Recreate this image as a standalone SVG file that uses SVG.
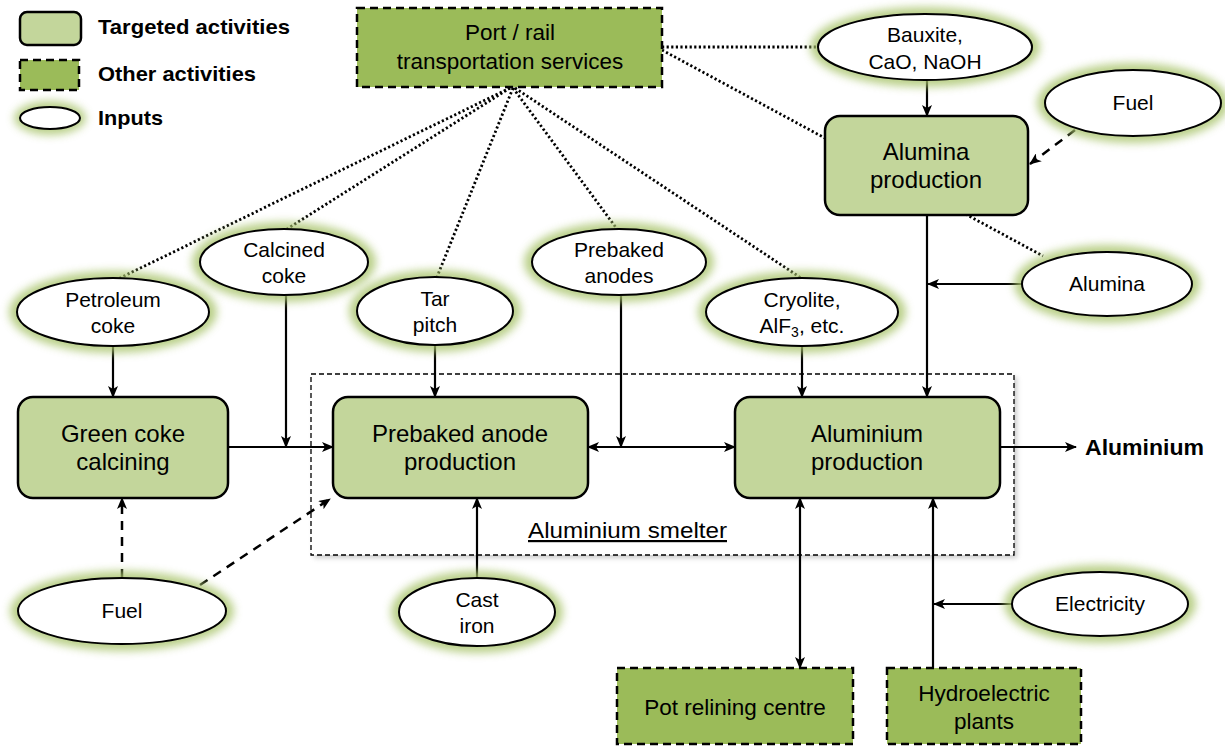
<svg xmlns="http://www.w3.org/2000/svg" width="1225" height="746" viewBox="0 0 1225 746">
  <style>
    text { font-family: "Liberation Sans", Arial, sans-serif; fill: #000; }
    .box-t { fill: #c3d69b; stroke: #000; stroke-width: 2.5; }
    .box-o { fill: #9bbb59; stroke: #000; stroke-width: 2.5; stroke-dasharray: 8 5; }
    .inp { fill: #fff; stroke: #000; stroke-width: 2; }
    .glow { fill: #a9c46c; filter: url(#blur); opacity: 0.8; }
    .lbl { font-size: 24px; text-anchor: middle; }
    .olbl { font-size: 22.5px; text-anchor: middle; }
    .ilbl { font-size: 21px; text-anchor: middle; }
    .leg { font-size: 21px; font-weight: bold; }
    .solid { stroke: #000; stroke-width: 2.2; fill: none; }
    .dash { stroke: #000; stroke-width: 2.5; fill: none; stroke-dasharray: 9 7; }
    .dot { stroke: #000; stroke-width: 2.8; fill: none; stroke-dasharray: 2.2 2.4; }
  </style>
  <defs>
    <filter id="blur" x="-20%" y="-40%" width="140%" height="180%">
      <feGaussianBlur stdDeviation="4"/>
    </filter>
    <filter id="shadow" x="-5%" y="-5%" width="110%" height="115%">
      <feGaussianBlur stdDeviation="2.5"/>
    </filter>
    <marker id="arr" viewBox="0 0 12 10" refX="11" refY="5" markerWidth="12" markerHeight="10" markerUnits="userSpaceOnUse" orient="auto-start-reverse">
      <path d="M0,0 L12,5 L0,10 L3,5 z" fill="#000"/>
    </marker>
  </defs>

  <!-- legend -->
  <g id="legend">
    <rect class="box-t" x="20" y="12" width="61" height="33" rx="7"/>
    <text class="leg" x="98" y="34" textLength="192" lengthAdjust="spacingAndGlyphs">Targeted activities</text>
    <rect class="box-o" x="20" y="60" width="59" height="30"/>
    <text class="leg" x="98" y="81" textLength="158" lengthAdjust="spacingAndGlyphs">Other activities</text>
    <ellipse class="glow" cx="50" cy="118" rx="36" ry="17"/>
    <ellipse class="inp" cx="50" cy="118" rx="30" ry="11"/>
    <text class="leg" x="98" y="125" textLength="65" lengthAdjust="spacingAndGlyphs">Inputs</text>
  </g>

  <!-- smelter boundary -->
  <g id="smelter">
    <rect x="314" y="377" width="703" height="181" fill="#999" opacity="0.5" filter="url(#shadow)"/>
    <rect x="311" y="374" width="703" height="181" fill="#fff" stroke="#000" stroke-width="1.3" stroke-dasharray="5 3"/>
    <text x="528" y="538" font-size="22" text-decoration="underline" textLength="199" lengthAdjust="spacingAndGlyphs">Aluminium smelter</text>
  </g>

  <!-- connectors -->
  <g id="connectors">
    <line class="dot" x1="510" y1="88" x2="118" y2="279"/>
    <line class="dot" x1="510" y1="88" x2="287" y2="229"/>
    <line class="dot" x1="513" y1="88" x2="437" y2="277"/>
    <line class="dot" x1="513" y1="88" x2="617" y2="229"/>
    <line class="dot" x1="515" y1="88" x2="801" y2="278"/>
    <line class="dot" x1="662" y1="47" x2="818" y2="47"/>
    <line class="dot" x1="662" y1="50" x2="1043" y2="256"/>

    <line class="solid" x1="113" y1="346" x2="113" y2="397" marker-end="url(#arr)"/>
    <line class="solid" x1="286" y1="296" x2="286" y2="447" marker-end="url(#arr)"/>
    <line class="solid" x1="228" y1="447" x2="333" y2="447" marker-end="url(#arr)"/>
    <line class="solid" x1="435" y1="345" x2="435" y2="397" marker-end="url(#arr)"/>
    <line class="solid" x1="621" y1="296" x2="621" y2="447" marker-end="url(#arr)"/>
    <line class="solid" x1="588" y1="447" x2="735" y2="447" marker-start="url(#arr)" marker-end="url(#arr)"/>
    <line class="solid" x1="802" y1="346" x2="802" y2="397" marker-end="url(#arr)"/>
    <line class="solid" x1="927" y1="80" x2="927" y2="116" marker-end="url(#arr)"/>
    <line class="solid" x1="927" y1="215" x2="927" y2="397" marker-end="url(#arr)"/>
    <line class="solid" x1="1022" y1="284" x2="928" y2="284" marker-end="url(#arr)"/>
    <line class="solid" x1="1000" y1="447" x2="1076" y2="447" marker-end="url(#arr)"/>
    <line class="solid" x1="477" y1="578" x2="477" y2="498" marker-end="url(#arr)"/>
    <line class="solid" x1="800" y1="498" x2="800" y2="668" marker-start="url(#arr)" marker-end="url(#arr)"/>
    <line class="solid" x1="933" y1="668" x2="933" y2="498" marker-end="url(#arr)"/>
    <line class="solid" x1="1012" y1="604" x2="934" y2="604" marker-end="url(#arr)"/>

    <line class="dash" x1="122" y1="578" x2="122" y2="498" marker-end="url(#arr)"/>
    <line class="dash" x1="200" y1="585" x2="330" y2="499" marker-end="url(#arr)"/>
    <line class="dash" x1="1075" y1="130" x2="1030" y2="164" marker-end="url(#arr)"/>
  </g>

  <!-- activities -->
  <g id="port-rail">
    <rect class="box-o" x="357" y="8" width="305" height="79"/>
    <text class="olbl" x="510" y="40">Port / rail</text>
    <text class="olbl" x="510" y="69">transportation services</text>
  </g>
  <g id="alumina-production">
    <rect class="box-t" x="825" y="116" width="203" height="99" rx="15"/>
    <text class="lbl" x="926" y="160">Alumina</text>
    <text class="lbl" x="926" y="188">production</text>
  </g>
  <g id="green-coke-calcining">
    <rect class="box-t" x="18" y="397" width="210" height="101" rx="15"/>
    <text class="lbl" x="123" y="442">Green coke</text>
    <text class="lbl" x="123" y="470">calcining</text>
  </g>
  <g id="anode-production">
    <rect class="box-t" x="333" y="397" width="255" height="101" rx="15"/>
    <text class="lbl" x="460" y="442">Prebaked anode</text>
    <text class="lbl" x="460" y="470">production</text>
  </g>
  <g id="aluminium-production">
    <rect class="box-t" x="735" y="397" width="265" height="101" rx="15"/>
    <text class="lbl" x="867" y="442">Aluminium</text>
    <text class="lbl" x="867" y="470">production</text>
  </g>
  <g id="pot-relining">
    <rect class="box-o" x="617" y="668" width="236" height="76"/>
    <text class="olbl" x="735" y="715">Pot relining centre</text>
  </g>
  <g id="hydroelectric">
    <rect class="box-o" x="887" y="668" width="194" height="76"/>
    <text class="olbl" x="984" y="701">Hydroelectric</text>
    <text class="olbl" x="984" y="729">plants</text>
  </g>

  <!-- inputs -->
  <g id="in-bauxite">
    <ellipse class="glow" cx="925" cy="47" rx="115" ry="40"/>
    <ellipse class="inp" cx="925" cy="47" rx="107" ry="33"/>
    <text class="ilbl" x="925" y="42">Bauxite,</text>
    <text class="ilbl" x="925" y="69">CaO, NaOH</text>
  </g>
  <g id="in-fuel-alumina">
    <ellipse class="glow" cx="1133" cy="103" rx="96" ry="40"/>
    <ellipse class="inp" cx="1133" cy="103" rx="88" ry="33"/>
    <text class="ilbl" x="1133" y="110">Fuel</text>
  </g>
  <g id="in-alumina">
    <ellipse class="glow" cx="1107" cy="284" rx="93" ry="39"/>
    <ellipse class="inp" cx="1107" cy="284" rx="85" ry="32"/>
    <text class="ilbl" x="1107" y="291">Alumina</text>
  </g>
  <g id="in-petroleum-coke">
    <ellipse class="glow" cx="113" cy="312" rx="104" ry="41"/>
    <ellipse class="inp" cx="113" cy="312" rx="96" ry="34"/>
    <text class="ilbl" x="113" y="307">Petroleum</text>
    <text class="ilbl" x="113" y="333">coke</text>
  </g>
  <g id="in-calcined-coke">
    <ellipse class="glow" cx="284" cy="262" rx="92" ry="40"/>
    <ellipse class="inp" cx="284" cy="262" rx="84" ry="33"/>
    <text class="ilbl" x="284" y="257">Calcined</text>
    <text class="ilbl" x="284" y="283">coke</text>
  </g>
  <g id="in-tar-pitch">
    <ellipse class="glow" cx="435" cy="311" rx="86" ry="41"/>
    <ellipse class="inp" cx="435" cy="311" rx="78" ry="34"/>
    <text class="ilbl" x="435" y="306">Tar</text>
    <text class="ilbl" x="435" y="332">pitch</text>
  </g>
  <g id="in-prebaked-anodes">
    <ellipse class="glow" cx="619" cy="262" rx="95" ry="40"/>
    <ellipse class="inp" cx="619" cy="262" rx="87" ry="33"/>
    <text class="ilbl" x="619" y="257">Prebaked</text>
    <text class="ilbl" x="619" y="283">anodes</text>
  </g>
  <g id="in-cryolite">
    <ellipse class="glow" cx="802" cy="312" rx="104" ry="41"/>
    <ellipse class="inp" cx="802" cy="312" rx="96" ry="34"/>
    <text class="ilbl" x="802" y="307">Cryolite,</text>
    <text class="ilbl" x="802" y="333">AlF<tspan font-size="14" dy="4">3</tspan><tspan dy="-4">,  etc.</tspan></text>
  </g>
  <g id="in-cast-iron">
    <ellipse class="glow" cx="477" cy="612" rx="86" ry="41"/>
    <ellipse class="inp" cx="477" cy="612" rx="78" ry="34"/>
    <text class="ilbl" x="477" y="607">Cast</text>
    <text class="ilbl" x="477" y="633">iron</text>
  </g>
  <g id="in-fuel-coke">
    <ellipse class="glow" cx="122" cy="611" rx="112" ry="40"/>
    <ellipse class="inp" cx="122" cy="611" rx="104" ry="33"/>
    <text class="ilbl" x="122" y="618">Fuel</text>
  </g>
  <g id="in-electricity">
    <ellipse class="glow" cx="1100" cy="604" rx="96" ry="39"/>
    <ellipse class="inp" cx="1100" cy="604" rx="88" ry="32"/>
    <text class="ilbl" x="1100" y="611">Electricity</text>
  </g>

  <!-- output -->
  <g id="out-aluminium">
    <text x="1085" y="455" font-size="22" font-weight="bold" textLength="119" lengthAdjust="spacingAndGlyphs">Aluminium</text>
  </g>
</svg>
